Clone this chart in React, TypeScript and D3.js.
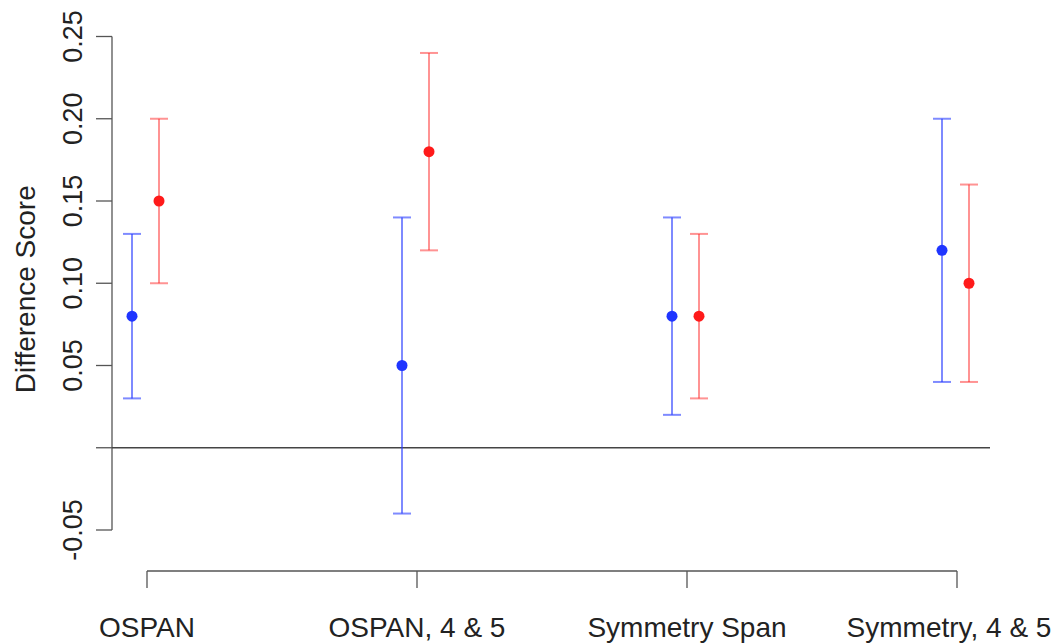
import React from "react";
import * as d3 from "d3";

const categories = ["OSPAN", "OSPAN, 4 & 5", "Symmetry Span", "Symmetry, 4 & 5"];
const blueMean = [0.08, 0.05, 0.08, 0.12];
const blueLow = [0.03, -0.04, 0.02, 0.04];
const blueHigh = [0.13, 0.14, 0.14, 0.2];
const redMean = [0.15, 0.18, 0.08, 0.1];
const redLow = [0.1, 0.12, 0.03, 0.04];
const redHigh = [0.2, 0.24, 0.13, 0.16];
const yTicks = [-0.05, 0, 0.05, 0.1, 0.15, 0.2, 0.25];

const W = 1054;
const H = 644;
const FONT = "'Liberation Sans', Arial, Helvetica, sans-serif";

export default function App() {
  const x = d3.scaleLinear().domain([0, 3]).range([147, 957]);
  const y = d3.scaleLinear().domain([-0.05, 0.25]).range([530, 36.5]);
  const off = 0.05;
  const axisColor = "#555";
  const fmt = (t: number) => d3.format(".2f")(t).replace("\u2212", "-");

  const series = [
    { mean: blueMean, lo: blueLow, hi: blueHigh, dx: -off, line: "rgba(40,60,255,0.6)", dot: "#1f35ff" },
    { mean: redMean, lo: redLow, hi: redHigh, dx: off, line: "rgba(255,40,40,0.5)", dot: "#ff1a1a" },
  ];

  return (
    <svg width={W} height={H} style={{ position: "absolute", left: 0, top: 0, background: "#fff" }}>
      {/* y axis */}
      <line x1={112} x2={112} y1={y(0.25)} y2={y(-0.05)} stroke={axisColor} strokeWidth={1.3} />
      {yTicks.map((t) => (
        <g key={t}>
          <line x1={96} x2={112} y1={y(t)} y2={y(t)} stroke={axisColor} strokeWidth={1.3} />
          {t !== 0 && (
            <text
              transform={`translate(82,${y(t)}) rotate(-90)`}
              textAnchor="middle"
              fontFamily={FONT}
              fontSize={27}
              fill="#222"
            >
              {fmt(t)}
            </text>
          )}
        </g>
      ))}
      <text
        transform={`translate(35,${(y(0.25) + y(-0.05)) / 2 + 6}) rotate(-90)`}
        textAnchor="middle"
        fontFamily={FONT}
        fontSize={28}
        fill="#222"
      >
        Difference Score
      </text>

      {/* zero line */}
      <line x1={112} x2={990} y1={y(0)} y2={y(0)} stroke="#444" strokeWidth={1.3} />

      {/* x axis */}
      <line x1={x(0)} x2={x(3)} y1={571} y2={571} stroke={axisColor} strokeWidth={1.3} />
      {categories.map((c, i) => (
        <g key={c}>
          <line x1={x(i)} x2={x(i)} y1={571} y2={588} stroke={axisColor} strokeWidth={1.3} />
          <text x={x(i) - (i === 3 ? 8 : 0)} y={637} textAnchor="middle" fontFamily={FONT} fontSize={28} fill="#222">
            {c}
          </text>
        </g>
      ))}

      {/* error bars */}
      {series.map((s, si) =>
        categories.map((_, i) => {
          const cx = x(i + s.dx) - 1.5;
          return (
            <g key={`${si}-${i}`}>
              <line x1={cx} x2={cx} y1={y(s.lo[i])} y2={y(s.hi[i])} stroke={s.line} strokeWidth={2} />
              <line x1={cx - 9} x2={cx + 9} y1={y(s.lo[i])} y2={y(s.lo[i])} stroke={s.line} strokeWidth={2} />
              <line x1={cx - 9} x2={cx + 9} y1={y(s.hi[i])} y2={y(s.hi[i])} stroke={s.line} strokeWidth={2} />
              <circle cx={cx} cy={y(s.mean[i])} r={5.5} fill={s.dot} />
            </g>
          );
        })
      )}
    </svg>
  );
}
